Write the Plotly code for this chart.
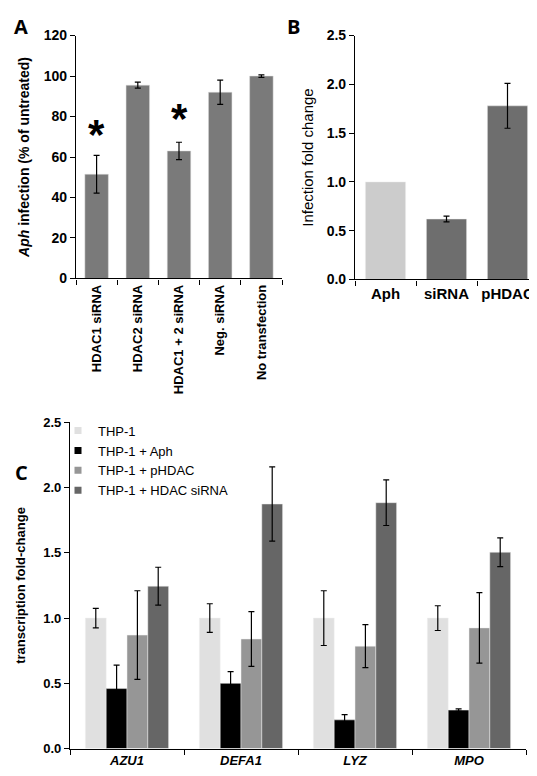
import plotly.graph_objects as go

W, H = 537, 776

# Panel A data
a_cats = ["HDAC1 siRNA", "HDAC2 siRNA", "HDAC1 + 2 siRNA", "Neg. siRNA", "No transfection"]
a_vals = [51.5, 95.5, 63.0, 92.0, 100.0]
a_err = [9.3, 1.5, 4.3, 6.0, 0.6]
a_star_cats = ["HDAC1 siRNA", "HDAC1 + 2 siRNA"]
a_star_y = [71, 79]

# Panel B data
b_cats = ["Aph", "siRNA", "pHDAC"]
b_vals = [1.0, 0.62, 1.78]
b_err = [None, 0.03, 0.23]
b_colors = ["#cccccc", "#6e6e6e", "#6e6e6e"]

# Panel C data
c_genes = ["AZU1", "DEFA1", "LYZ", "MPO"]
c_series = ["THP-1", "THP-1 + Aph", "THP-1 + pHDAC", "THP-1 + HDAC siRNA"]
c_vals = [
    [1.0, 1.0, 1.0, 1.0],
    [0.46, 0.50, 0.22, 0.295],
    [0.87, 0.84, 0.785, 0.925],
    [1.245, 1.875, 1.885, 1.505],
]
c_err = [
    [0.075, 0.11, 0.21, 0.095],
    [0.18, 0.09, 0.04, 0.01],
    [0.34, 0.21, 0.165, 0.27],
    [0.145, 0.285, 0.175, 0.11],
]
c_colors = ["#e0e0e0", "#000000", "#969696", "#666666"]

FONT = "Liberation Sans, Arial, sans-serif"

def px_x(a, b):
    return [a / W, b / W]

def px_y(top, bottom):
    return [1 - bottom / H, 1 - top / H]

fig = go.Figure()

eb = dict(type="data", color="black", thickness=1.2, width=3)

fig.add_trace(go.Bar(
    x=a_cats, y=a_vals, error_y=dict(array=a_err, **eb),
    marker=dict(color="#7a7a7a", line=dict(color="#dddddd", width=0.5)),
    width=0.57, xaxis="x", yaxis="y", showlegend=False,
))

# Panel B: bars without error value and bars with error value share one slot
b_no_err = [i for i, e in enumerate(b_err) if e is None]
b_with_err = [i for i, e in enumerate(b_err) if e is not None]
fig.add_trace(go.Bar(
    x=[b_cats[i] for i in b_no_err], y=[b_vals[i] for i in b_no_err],
    marker=dict(color=[b_colors[i] for i in b_no_err], line=dict(color="#eeeeee", width=0.5)),
    width=0.66, offsetgroup="b", xaxis="x2", yaxis="y2", showlegend=False,
))
fig.add_trace(go.Bar(
    x=[b_cats[i] for i in b_with_err], y=[b_vals[i] for i in b_with_err],
    error_y=dict(array=[b_err[i] for i in b_with_err], **eb),
    marker=dict(color=[b_colors[i] for i in b_with_err], line=dict(color="#eeeeee", width=0.5)),
    width=0.66, offsetgroup="b", xaxis="x2", yaxis="y2", showlegend=False,
))

for name, vals, errs, col in zip(c_series, c_vals, c_err, c_colors):
    fig.add_trace(go.Bar(
        x=c_genes, y=vals, name=name, error_y=dict(array=errs, **eb),
        marker=dict(color=col, line=dict(color="#eeeeee", width=0.5)),
        xaxis="x3", yaxis="y3", showlegend=False, legendgroup=name,
    ))
    # small square legend key
    fig.add_trace(go.Scatter(
        x=[None], y=[None], name=name, mode="markers", legendgroup=name,
        marker=dict(symbol="square", size=7, color=col),
        xaxis="x3", yaxis="y3", showlegend=True,
    ))

axis_common = dict(showline=True, linecolor="black", linewidth=1.2,
                   ticks="outside", ticklen=5, tickcolor="black",
                   showgrid=False, zeroline=False)

def bold(size, **kw):
    return dict(family=FONT, size=size, color="black", weight="bold", **kw)

fig.update_layout(
    width=W, height=H,
    margin=dict(l=0, r=0, t=0, b=0),
    paper_bgcolor="white", plot_bgcolor="white",
    barmode="group", bargap=0.27, bargroupgap=0,
    font=dict(family=FONT, color="black"),
    xaxis=dict(domain=px_x(68, 274), anchor="y", tickson="boundaries",
               tickangle=-90, tickfont=bold(13), **axis_common),
    yaxis=dict(domain=px_y(20, 268), anchor="x", range=[0, 120], dtick=20,
               tickfont=bold(14),
               title=dict(text="<i>Aph</i> infection (% of untreated)",
                          font=bold(14), standoff=10),
               **axis_common),
    xaxis2=dict(domain=px_x(347, 530), anchor="y2", tickson="boundaries",
                tickfont=bold(15), **axis_common),
    yaxis2=dict(domain=px_y(20, 269), anchor="x2", range=[0, 2.5], dtick=0.5,
                tickformat=".1f", tickfont=bold(14),
                title=dict(text="Infection fold change",
                           font=dict(family=FONT, size=15, color="black"), standoff=9),
                **axis_common),
    xaxis3=dict(domain=px_x(62, 518), anchor="y3", tickson="boundaries",
                tickfont=bold(13, style="italic"), **axis_common),
    yaxis3=dict(domain=px_y(415, 748), anchor="x3", range=[0, 2.5], dtick=0.5,
                tickformat=".1f", tickfont=bold(13),
                title=dict(text="transcription fold-change",
                           font=bold(13), standoff=14),
                **axis_common),
    legend=dict(x=50 / W, y=1 - 408 / H, xanchor="left", yanchor="top",
                bgcolor="rgba(0,0,0,0)", font=dict(family=FONT, size=13, color="black"),
                itemwidth=30, tracegroupgap=0),
)

for cat, yv in zip(a_star_cats, a_star_y):
    fig.add_annotation(x=cat, y=yv, xref="x", yref="y", text="<b>*</b>",
                       showarrow=False, font=dict(family=FONT, size=42, color="black"),
                       yanchor="middle")

for letter, x, y in [("A", 13, 11), ("B", 285, 11), ("C", 13, 466)]:
    fig.add_annotation(x=x / W, y=1 - y / H, xref="paper", yref="paper",
                       text="<b>" + letter + "</b>", showarrow=False,
                       xanchor="center", yanchor="middle",
                       font=dict(family="Open Sans, sans-serif", size=20, color="black"))

fig.write_html("out.html")
